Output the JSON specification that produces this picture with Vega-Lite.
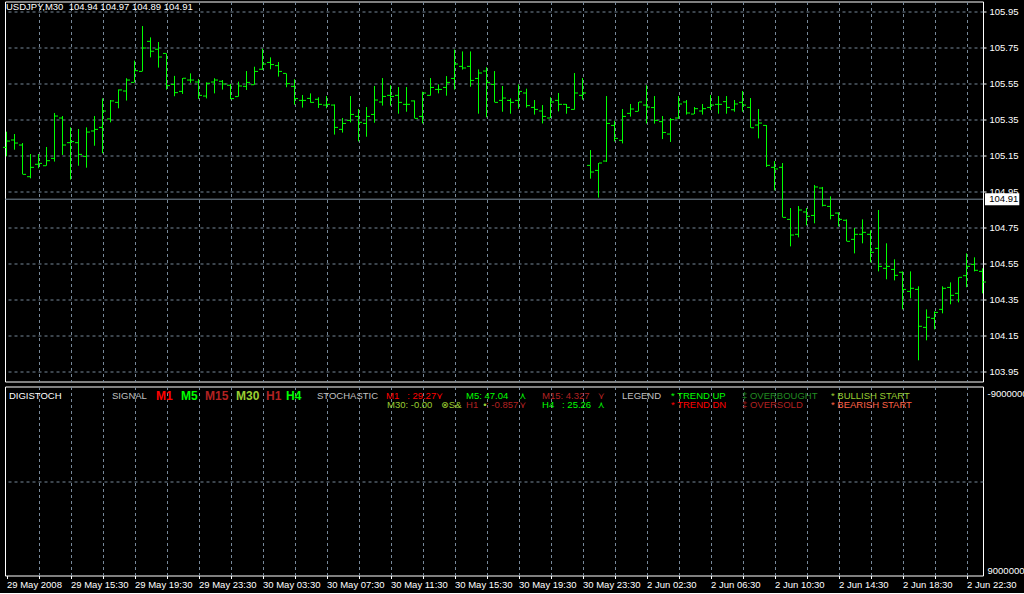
{
  "$schema": "https://vega.github.io/schema/vega-lite/v6.json",
  "background": "#000000",
  "padding": {"left": 2, "top": 0.5, "right": -3, "bottom": 3},
  "spacing": 3,
  "config": {
    "view": {"stroke": "#ffffff", "strokeWidth": 1},
    "font": "Liberation Sans",
    "axis": {"labelFont": "Liberation Sans", "labelFontSize": 9.5, "labelColor": "#ffffff", "gridColor": "#778899", "gridDash": [3, 3], "gridWidth": 1, "domain": false, "tickColor": "#ffffff", "labelOverlap": false, "tickCount": 200}
  },
  "datasets": {
    "quote": [{"bid": 104.91}],
    "bars": [
      {"i":0,"o":105.198,"h":105.285,"l":105.148,"c":105.233},
      {"i":1,"o":105.239,"h":105.272,"l":105.185,"c":105.222},
      {"i":2,"o":105.211,"h":105.222,"l":105.048,"c":105.048},
      {"i":3,"o":105.035,"h":105.161,"l":105.026,"c":105.087},
      {"i":4,"o":105.104,"h":105.161,"l":105.082,"c":105.109},
      {"i":5,"o":105.096,"h":105.2,"l":105.096,"c":105.124},
      {"i":6,"o":105.137,"h":105.389,"l":105.119,"c":105.372},
      {"i":7,"o":105.361,"h":105.372,"l":105.156,"c":105.211},
      {"i":8,"o":105.224,"h":105.309,"l":105.019,"c":105.23},
      {"i":9,"o":105.224,"h":105.3,"l":105.096,"c":105.159},
      {"i":10,"o":105.148,"h":105.309,"l":105.085,"c":105.283},
      {"i":11,"o":105.289,"h":105.372,"l":105.207,"c":105.298},
      {"i":12,"o":105.309,"h":105.47,"l":105.165,"c":105.4},
      {"i":13,"o":105.356,"h":105.461,"l":105.337,"c":105.456},
      {"i":14,"o":105.448,"h":105.52,"l":105.415,"c":105.517},
      {"i":15,"o":105.511,"h":105.582,"l":105.458,"c":105.572},
      {"i":16,"o":105.559,"h":105.68,"l":105.559,"c":105.624},
      {"i":17,"o":105.62,"h":105.872,"l":105.62,"c":105.75},
      {"i":18,"o":105.787,"h":105.809,"l":105.698,"c":105.732},
      {"i":19,"o":105.743,"h":105.783,"l":105.641,"c":105.7},
      {"i":20,"o":105.72,"h":105.72,"l":105.519,"c":105.541},
      {"i":21,"o":105.548,"h":105.595,"l":105.482,"c":105.502},
      {"i":22,"o":105.509,"h":105.583,"l":105.495,"c":105.582},
      {"i":23,"o":105.572,"h":105.609,"l":105.556,"c":105.572},
      {"i":24,"o":105.561,"h":105.578,"l":105.467,"c":105.487},
      {"i":25,"o":105.483,"h":105.559,"l":105.47,"c":105.554},
      {"i":26,"o":105.561,"h":105.582,"l":105.498,"c":105.572},
      {"i":27,"o":105.565,"h":105.572,"l":105.519,"c":105.55},
      {"i":28,"o":105.543,"h":105.55,"l":105.465,"c":105.469},
      {"i":29,"o":105.48,"h":105.563,"l":105.48,"c":105.539},
      {"i":30,"o":105.537,"h":105.622,"l":105.517,"c":105.559},
      {"i":31,"o":105.546,"h":105.646,"l":105.546,"c":105.62},
      {"i":32,"o":105.632,"h":105.746,"l":105.628,"c":105.661},
      {"i":33,"o":105.67,"h":105.698,"l":105.632,"c":105.658},
      {"i":34,"o":105.652,"h":105.672,"l":105.591,"c":105.62},
      {"i":35,"o":105.609,"h":105.609,"l":105.532,"c":105.552},
      {"i":36,"o":105.537,"h":105.576,"l":105.435,"c":105.469},
      {"i":37,"o":105.459,"h":105.489,"l":105.419,"c":105.459},
      {"i":38,"o":105.47,"h":105.498,"l":105.446,"c":105.448},
      {"i":39,"o":105.465,"h":105.476,"l":105.417,"c":105.437},
      {"i":40,"o":105.433,"h":105.483,"l":105.415,"c":105.437},
      {"i":41,"o":105.433,"h":105.437,"l":105.269,"c":105.309},
      {"i":42,"o":105.298,"h":105.361,"l":105.28,"c":105.331},
      {"i":43,"o":105.348,"h":105.483,"l":105.337,"c":105.381},
      {"i":44,"o":105.37,"h":105.411,"l":105.231,"c":105.337},
      {"i":45,"o":105.331,"h":105.422,"l":105.257,"c":105.37},
      {"i":46,"o":105.381,"h":105.539,"l":105.335,"c":105.461},
      {"i":47,"o":105.45,"h":105.583,"l":105.43,"c":105.481},
      {"i":48,"o":105.487,"h":105.543,"l":105.43,"c":105.481},
      {"i":49,"o":105.487,"h":105.533,"l":105.385,"c":105.448},
      {"i":50,"o":105.437,"h":105.533,"l":105.396,"c":105.437},
      {"i":51,"o":105.456,"h":105.459,"l":105.359,"c":105.359},
      {"i":52,"o":105.37,"h":105.507,"l":105.331,"c":105.5},
      {"i":53,"o":105.487,"h":105.583,"l":105.485,"c":105.531},
      {"i":54,"o":105.52,"h":105.548,"l":105.498,"c":105.52},
      {"i":55,"o":105.531,"h":105.594,"l":105.485,"c":105.559},
      {"i":56,"o":105.581,"h":105.741,"l":105.519,"c":105.661},
      {"i":57,"o":105.648,"h":105.731,"l":105.63,"c":105.639},
      {"i":58,"o":105.648,"h":105.731,"l":105.535,"c":105.57},
      {"i":59,"o":105.581,"h":105.631,"l":105.385,"c":105.611},
      {"i":60,"o":105.622,"h":105.643,"l":105.365,"c":105.559},
      {"i":61,"o":105.548,"h":105.622,"l":105.448,"c":105.448},
      {"i":62,"o":105.459,"h":105.539,"l":105.396,"c":105.472},
      {"i":63,"o":105.459,"h":105.47,"l":105.385,"c":105.448},
      {"i":64,"o":105.459,"h":105.548,"l":105.413,"c":105.509},
      {"i":65,"o":105.5,"h":105.524,"l":105.419,"c":105.43},
      {"i":66,"o":105.42,"h":105.461,"l":105.38,"c":105.409},
      {"i":67,"o":105.4,"h":105.433,"l":105.331,"c":105.37},
      {"i":68,"o":105.361,"h":105.476,"l":105.361,"c":105.45},
      {"i":69,"o":105.459,"h":105.5,"l":105.398,"c":105.437},
      {"i":70,"o":105.437,"h":105.439,"l":105.385,"c":105.42},
      {"i":71,"o":105.409,"h":105.611,"l":105.407,"c":105.5},
      {"i":72,"o":105.487,"h":105.583,"l":105.463,"c":105.5},
      {"i":73,"o":105.098,"h":105.183,"l":105.024,"c":105.061},
      {"i":74,"o":105.07,"h":105.111,"l":104.919,"c":105.111},
      {"i":75,"o":105.122,"h":105.483,"l":105.117,"c":105.331},
      {"i":76,"o":105.32,"h":105.346,"l":105.231,"c":105.248},
      {"i":77,"o":105.237,"h":105.411,"l":105.22,"c":105.37},
      {"i":78,"o":105.387,"h":105.439,"l":105.369,"c":105.411},
      {"i":79,"o":105.398,"h":105.45,"l":105.398,"c":105.45},
      {"i":80,"o":105.433,"h":105.543,"l":105.331,"c":105.422},
      {"i":81,"o":105.419,"h":105.483,"l":105.33,"c":105.348},
      {"i":82,"o":105.341,"h":105.372,"l":105.244,"c":105.281},
      {"i":83,"o":105.272,"h":105.361,"l":105.228,"c":105.352},
      {"i":84,"o":105.361,"h":105.483,"l":105.356,"c":105.439},
      {"i":85,"o":105.45,"h":105.461,"l":105.38,"c":105.389},
      {"i":86,"o":105.383,"h":105.422,"l":105.383,"c":105.413},
      {"i":87,"o":105.4,"h":105.439,"l":105.38,"c":105.413},
      {"i":88,"o":105.42,"h":105.489,"l":105.406,"c":105.433},
      {"i":89,"o":105.437,"h":105.483,"l":105.385,"c":105.437},
      {"i":90,"o":105.452,"h":105.483,"l":105.385,"c":105.42},
      {"i":91,"o":105.407,"h":105.461,"l":105.396,"c":105.439},
      {"i":92,"o":105.448,"h":105.511,"l":105.396,"c":105.433},
      {"i":93,"o":105.42,"h":105.472,"l":105.307,"c":105.307},
      {"i":94,"o":105.322,"h":105.411,"l":105.248,"c":105.333},
      {"i":95,"o":105.32,"h":105.322,"l":105.089,"c":105.098},
      {"i":96,"o":105.087,"h":105.122,"l":104.959,"c":105.078},
      {"i":97,"o":105.087,"h":105.111,"l":104.809,"c":104.809},
      {"i":98,"o":104.798,"h":104.861,"l":104.648,"c":104.711},
      {"i":99,"o":104.715,"h":104.872,"l":104.698,"c":104.85},
      {"i":100,"o":104.839,"h":104.861,"l":104.765,"c":104.815},
      {"i":101,"o":104.82,"h":104.989,"l":104.776,"c":104.978},
      {"i":102,"o":104.972,"h":104.978,"l":104.87,"c":104.876},
      {"i":103,"o":104.87,"h":104.926,"l":104.798,"c":104.82},
      {"i":104,"o":104.833,"h":104.837,"l":104.759,"c":104.798},
      {"i":105,"o":104.793,"h":104.798,"l":104.676,"c":104.676},
      {"i":106,"o":104.687,"h":104.75,"l":104.609,"c":104.715},
      {"i":107,"o":104.715,"h":104.798,"l":104.665,"c":104.726},
      {"i":108,"o":104.715,"h":104.737,"l":104.559,"c":104.615},
      {"i":109,"o":104.637,"h":104.85,"l":104.509,"c":104.537},
      {"i":110,"o":104.526,"h":104.665,"l":104.465,"c":104.537},
      {"i":111,"o":104.52,"h":104.576,"l":104.459,"c":104.487},
      {"i":112,"o":104.504,"h":104.509,"l":104.298,"c":104.409},
      {"i":113,"o":104.398,"h":104.509,"l":104.359,"c":104.415},
      {"i":114,"o":104.409,"h":104.426,"l":104.015,"c":104.204},
      {"i":115,"o":104.198,"h":104.298,"l":104.126,"c":104.254},
      {"i":116,"o":104.248,"h":104.287,"l":104.187,"c":104.281},
      {"i":117,"o":104.298,"h":104.426,"l":104.276,"c":104.415},
      {"i":118,"o":104.42,"h":104.448,"l":104.326,"c":104.376},
      {"i":119,"o":104.387,"h":104.476,"l":104.337,"c":104.476},
      {"i":120,"o":104.485,"h":104.609,"l":104.421,"c":104.537},
      {"i":121,"o":104.548,"h":104.587,"l":104.509,"c":104.515},
      {"i":122,"o":104.509,"h":104.526,"l":104.387,"c":104.45}
    ],
    "notes": [
      {"label":"DIGISTOCH","col":0.31,"row":1,"kind":"heading"},
      {"label":"SIGNAL","col":13.19,"row":1,"kind":"label"},
      {"label":"STOCHASTIC","col":38.81,"row":1,"kind":"label"},
      {"label":"M1\u00a0\u00a0\u00a0: 29.27","col":47.44,"row":1,"kind":"trenddn"},
      {"label":"\u22ce","col":53.7,"row":1,"kind":"trenddn"},
      {"label":"M5: 47.04","col":57.44,"row":1,"kind":"trendup"},
      {"label":"\u22cf","col":64.1,"row":1,"kind":"trendup"},
      {"label":"M15: 4.327","col":66.94,"row":1,"kind":"oversold"},
      {"label":"\u22ce","col":73.9,"row":1,"kind":"oversold"},
      {"label":"H1\u00a0\u00a0\u00a0: -0.857","col":57.44,"row":2,"kind":"oversold"},
      {"label":"\u22ce","col":64.1,"row":2,"kind":"oversold"},
      {"label":"M30: -0.00","col":47.56,"row":2,"kind":"bullish"},
      {"label":"\u2297S&","col":54.3,"row":2,"kind":"bullish"},
      {"label":"\u2022","col":59.6,"row":2,"kind":"bullish"},
      {"label":"H4\u00a0\u00a0\u00a0: 25.26","col":66.94,"row":2,"kind":"trendup"},
      {"label":"\u22cf","col":73.9,"row":2,"kind":"trendup"},
      {"label":"LEGEND","col":76.94,"row":1,"kind":"label"},
      {"label":"* TREND UP","col":83.06,"row":1,"kind":"trendup"},
      {"label":"* TREND DN","col":83.06,"row":2,"kind":"trenddn"},
      {"label":"\u2021 OVERBOUGHT","col":91.94,"row":1,"kind":"overbought"},
      {"label":"\u2021 OVERSOLD","col":91.94,"row":2,"kind":"oversold"},
      {"label":"* BULLISH START","col":103.06,"row":1,"kind":"bullish"},
      {"label":"* BEARISH START","col":103.06,"row":2,"kind":"bearish"}
    ],
    "signals": [
      {"label":"M1","col":18.69,"row":1,"kind":"trenddn"},
      {"label":"M5","col":21.81,"row":1,"kind":"trendup"},
      {"label":"M15","col":24.81,"row":1,"kind":"oversold"},
      {"label":"M30","col":28.69,"row":1,"kind":"bullish"},
      {"label":"H1","col":32.44,"row":1,"kind":"oversold"},
      {"label":"H4","col":34.94,"row":1,"kind":"trendup"}
    ]
  },
  "vconcat": [
    {
      "width": 978,
      "height": 380,
      "title": {"text": "USDJPY,M30\u00a0\u00a0104.94 104.97 104.89 104.91", "anchor": "start", "offset": -10, "dx": 3, "color": "#ffffff", "font": "Liberation Sans", "fontSize": 9.5, "fontWeight": "normal"},
      "layer": [
        {
          "data": {"name": "quote"},
          "mark": {"type": "rule", "color": "#778899", "strokeWidth": 1},
          "encoding": {
            "x": {"datum": -0.1875, "type": "quantitative",
              "scale": {"domain": [-0.1875, 122.0625], "nice": false, "zero": false},
              "axis": {"orient": "bottom", "values": [4,8,12,16,20,24,28,32,36,40,44,48,52,56,60,64,68,72,76,80,84,88,92,96,100,104,108,112,116,120], "tickCount": 200, "grid": true, "labels": false, "ticks": false, "domain": false, "title": null}},
            "x2": {"datum": 122.0625},
            "y": {"field": "bid", "type": "quantitative",
              "scale": {"domain": [103.89722, 106.00833], "nice": false, "zero": false},
              "axis": {"orient": "right", "values": [103.95,104.15,104.35,104.55,104.75,104.95,105.15,105.35,105.55,105.75,105.95], "tickCount": 200, "format": ".2f", "grid": true, "ticks": true, "tickSize": 3, "labelPadding": 3, "labelOverlap": false, "labelBound": false, "domain": false, "title": null}}
          }
        },
        {
          "data": {"name": "bars"},
          "mark": {"type": "rule", "color": "#00ff00", "strokeWidth": 1},
          "encoding": {
            "x": {"field": "i", "type": "quantitative"},
            "y": {"field": "l", "type": "quantitative"},
            "y2": {"field": "h"}
          }
        },
        {
          "data": {"name": "bars"},
          "mark": {"type": "tick", "orient": "horizontal", "color": "#00ff00", "size": 3, "thickness": 1, "xOffset": -2, "opacity": 1},
          "encoding": {"x": {"field": "i", "type": "quantitative"}, "y": {"field": "o", "type": "quantitative"}}
        },
        {
          "data": {"name": "bars"},
          "mark": {"type": "tick", "orient": "horizontal", "color": "#00ff00", "size": 3, "thickness": 1, "xOffset": 2, "opacity": 1},
          "encoding": {"x": {"field": "i", "type": "quantitative"}, "y": {"field": "c", "type": "quantitative"}}
        },
        {
          "data": {"name": "quote"},
          "mark": {"type": "rect", "color": "#ffffff", "opacity": 1},
          "encoding": {
            "x": {"datum": 122.31, "type": "quantitative"},
            "x2": {"datum": 126.6},
            "y": {"datum": 104.943, "type": "quantitative"},
            "y2": {"datum": 104.877}
          }
        },
        {
          "data": {"name": "quote"},
          "mark": {"type": "text", "color": "#000000", "align": "left", "baseline": "middle", "font": "Liberation Sans", "fontSize": 9.5},
          "encoding": {
            "x": {"datum": 122.85, "type": "quantitative"},
            "y": {"field": "bid", "type": "quantitative"},
            "text": {"field": "bid", "type": "quantitative", "format": ".2f"}
          }
        }
      ]
    },
    {
      "width": 978,
      "height": 189,
      "encoding": {
        "x": {"field": "col", "type": "quantitative",
          "scale": {"domain": [-0.1875, 122.0625], "nice": false, "zero": false},
          "axis": {"orient": "bottom", "values": [0,4,8,12,16,20,24,28,32,36,40,44,48,52,56,60,64,68,72,76,80,84,88,92,96,100,104,108,112,116,120], "tickCount": 200,
            "grid": true, "gridOpacity": {"condition": {"test": "datum.value > 0", "value": 1}, "value": 0},
            "ticks": true, "tickSize": 3, "labelPadding": 1, "labelAlign": "left", "labelBound": false, "labelOverlap": false, "domain": false, "title": null,
            "labelExpr": "datum.value % 8 == 0 ? ['29 May 2008','29 May 15:30','29 May 19:30','29 May 23:30','30 May 03:30','30 May 07:30','30 May 11:30','30 May 15:30','30 May 19:30','30 May 23:30','2 Jun 02:30','2 Jun 06:30','2 Jun 10:30','2 Jun 14:30','2 Jun 18:30','2 Jun 22:30'][datum.value / 8] : ''"}},
        "y": {"field": "row", "type": "quantitative",
          "scale": {"domain": [0, 19.895], "reverse": true, "nice": false, "zero": false},
          "axis": {"orient": "right", "values": [0.737, 10, 19.37], "tickCount": 200, "ticks": false, "labelPadding": 4, "labelOverlap": false, "domain": false, "title": null,
            "grid": true, "gridOpacity": {"condition": {"test": "datum.value == 10", "value": 1}, "value": 0},
            "labelExpr": "datum.value < 1 ? '-9000000' : (datum.value > 19 ? '9000000' : '')"}},
        "color": {"field": "kind", "type": "nominal", "legend": null,
          "scale": {"domain": ["heading","label","trendup","trenddn","overbought","oversold","bullish","bearish"],
                    "range": ["#ffffff","#c0c0c0","#00ff00","#ff0000","#228b22","#b22222","#9acd32","#ff6347"]}},
        "text": {"field": "label", "type": "nominal"}
      },
      "layer": [
        {
          "data": {"name": "notes"},
          "mark": {"type": "text", "align": "left", "baseline": "middle", "font": "Liberation Sans, DejaVu Sans", "fontSize": 9.5}
        },
        {
          "data": {"name": "signals"},
          "mark": {"type": "text", "align": "left", "baseline": "middle", "font": "Liberation Sans", "fontSize": 12, "fontWeight": "bold"}
        }
      ]
    }
  ]
}
